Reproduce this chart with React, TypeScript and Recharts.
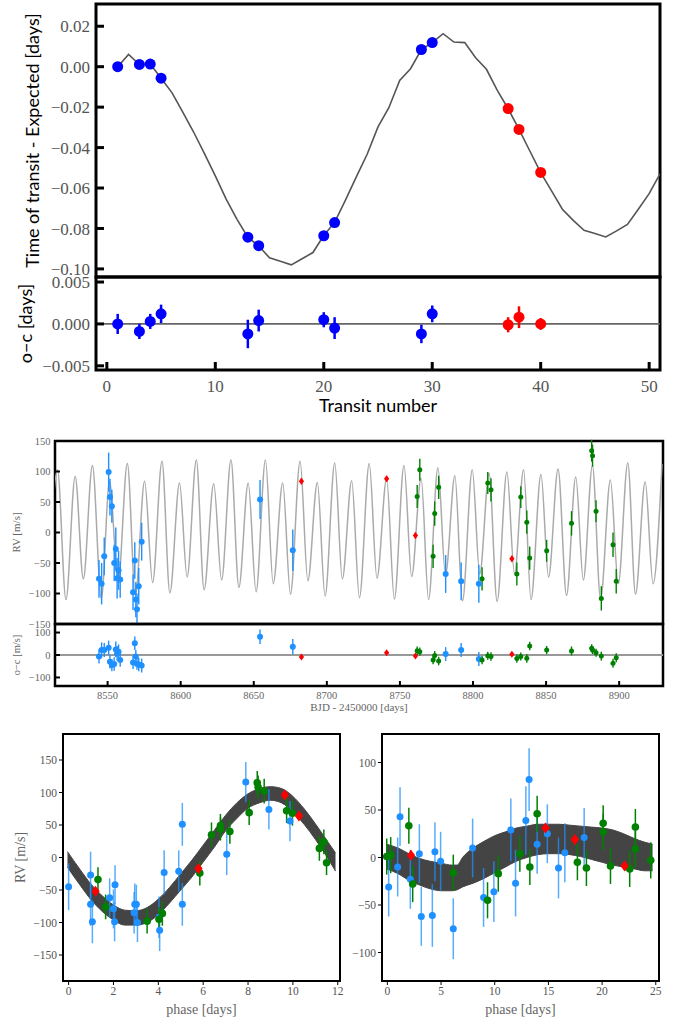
import React from "react";
import {
  ComposedChart,
  Line,
  Area,
  Scatter,
  XAxis,
  YAxis,
  ErrorBar,
  ReferenceArea,
  ReferenceLine,
  Label,
} from "recharts";

// ---- transit timing (top two panels) ----
const ttvModelN = [
  1, 2, 3, 4, 5, 6, 7, 8, 9, 10, 11, 12, 13, 14, 15, 16, 17, 18, 19, 20, 21, 22, 23, 24, 25, 26,
  27, 28, 29, 30, 31, 32, 33, 34, 35, 36, 37, 38, 39, 40, 41, 42, 43, 44, 45, 46, 47, 48, 49, 50, 51,
];
const ttvModel = [
  0.0, 0.0061, 0.0011, 0.0013, -0.0057, -0.0128, -0.0225, -0.0323, -0.043, -0.054, -0.0655,
  -0.0755, -0.0843, -0.0887, -0.0945, -0.0962, -0.098, -0.095, -0.0919, -0.0835, -0.077, -0.066,
  -0.0545, -0.0433, -0.0298, -0.0203, -0.0068, -0.001, 0.0085, 0.0119, 0.0163, 0.0122, 0.0119,
  0.0044, -0.0013, -0.0117, -0.0208, -0.031, -0.0417, -0.0524, -0.0614, -0.0705, -0.076, -0.0809,
  -0.0825, -0.0842, -0.0812, -0.078, -0.0705, -0.0628, -0.053,
];
const ttvBlueN = [1, 3, 4, 5, 13, 14, 20, 21, 29, 30];
const ttvBlue = [0.0, 0.0011, 0.0013, -0.0057, -0.0843, -0.0885, -0.0836, -0.0771, 0.0085, 0.0119];
const ttvBlueOC = [0.0, -0.0009, 0.0003, 0.0012, -0.0012, 0.0004, 0.0005, -0.0005, -0.0012, 0.0012];
const ttvBlueErr = [0.0012, 0.0009, 0.0009, 0.0011, 0.0017, 0.0013, 0.0009, 0.0013, 0.0011, 0.001];
const ttvRedN = [37, 38, 40];
const ttvRed = [-0.0207, -0.031, -0.0523];
const ttvRedOC = [-0.0001, 0.0008, 0.0];
const ttvRedErr = [0.0009, 0.0013, 0.0007];

// ---- RV time series ----
const rvModelT = [
  8509.8, 8515.7, 8521.5, 8527.8, 8533.4, 8539.6, 8545.7, 8551.3, 8557.2, 8563.5, 8569.0, 8575.3,
  8580.8, 8587.2, 8592.6, 8599.2, 8604.4, 8610.7, 8616.0, 8622.6, 8628.0, 8634.4, 8639.8, 8646.2,
  8651.6, 8658.0, 8663.3, 8669.8, 8675.1, 8681.7, 8687.0, 8693.5, 8698.8, 8705.4, 8710.6, 8717.0,
  8722.3, 8729.0, 8734.3, 8740.9, 8746.2, 8752.8, 8758.0, 8764.5, 8769.6, 8776.0, 8781.2, 8787.6,
  8792.8, 8799.5, 8804.6, 8811.0, 8816.5, 8823.2, 8828.4, 8834.6, 8839.7, 8846.5, 8851.7, 8858.2,
  8864.0, 8870.3, 8875.5, 8881.7, 8887.3, 8894.0, 8899.4, 8905.9, 8911.2, 8917.8, 8923.2, 8929.3,
];
const rvModelV = [
  -78, 103, -110, 92, -76, 110, -108, 83, -81, 113, -103, 84, -82, 117, -99, 81, -73, 119, -94, 80,
  -78, 119, -90, 81, -97, 119, -84, 81, -101, 117, -79, 82, -104, 114, -76, 85, -107, 113, -75, 88,
  -109, 110, -72, 89, -110, 106, -69, 93, -112, 103, -68, 97, -113, 99, -68, 103, -110, 95, -73,
  104, -103, 91, -78, 110, -109, 86, -84, 114, -101, 83, -84, 112,
];

const rvBlueT = [
  8544.1, 8545.9, 8547.7, 8550.7, 8551.6, 8552.9, 8554.5, 8555.6, 8556.5, 8557.5, 8558.6, 8567.4,
  8568.6, 8569.3, 8570.1, 8571.3, 8573.3, 8654.3, 8676.7, 8781.3, 8791.9, 8804.0,
];
const rvBlueV = [
  -76, -84, -39, 99, 58, 43, -50, -27, -75, -62, -77, -98, -46, -110, -126, -88, -15, 54, -29, -68,
  -80, -84,
];
const rvBlueErr = [31, 34, 31, 32, 30, 27, 30, 35, 33, 32, 30, 29, 30, 29, 26, 30, 31, 32, 34, 31, 31, 31];
const rvBlueOC = [-7, 22, 22, 32, -30, -45, -40, 25, 7, 15, -22, -33, 52, -7, -40, -42, -47, 81, 37, 4, 22, -18];

const rvGreenT = [
  8761.8, 8763.6, 8772.7, 8773.8, 8776.5, 8806.2, 8810.1, 8812.3, 8830.0, 8832.7, 8836.8, 8838.8,
  8850.4, 8867.4, 8881.2, 8881.8, 8884.2, 8887.8, 8895.8, 8898.0,
];
const rvGreenV = [59, 103, -39, 31, 74, -76, 81, 70, -68, 58, 17, -42, -30, 15, 134, 126, 35, -108, -20, -80];
const rvGreenErr = [19, 18, 19, 20, 19, 19, 18, 19, 19, 18, 19, 19, 18, 20, 18, 18, 18, 20, 20, 20];
const rvGreenOC = [19, 15, -22, -2, -27, -22, -3, -7, -16, -7, -15, 40, 22, 18, 30, 22, 10, -5, -37, -12];

const rvRedT = [8682.6, 8740.9, 8760.6, 8826.6];
const rvRedV = [84, 88, -5, -43];
const rvRedErr = [5, 5, 5, 5];
const rvRedOC = [-9, 10, -5, 3];

// ---- phase-folded, inner planet ----
const bandLPhase = [
  -0.05, 0.5, 1.0, 1.5, 2.0, 2.5, 3.0, 3.5, 4.0, 4.5, 5.0, 5.5, 6.0, 6.5, 7.0, 7.5, 8.0, 8.5, 9.0,
  9.5, 10.0, 10.5, 11.0, 11.5, 11.9,
];
const bandLHigh = [9, -18, -41, -59, -73, -81, -82, -77, -64, -46, -25, -4, 19, 42, 65, 84, 98, 106, 109, 106, 94, 75, 52, 27, 7];
const bandLLow = [-15, -42, -65, -83, -96, -104, -104, -100, -88, -70, -50, -30, -7, 16, 41, 60, 76, 84, 88, 84, 70, 51, 28, 2, -21];

const phLBlueP = [
  0.0, 0.98, 0.98, 1.06, 1.83, 2.0, 2.07, 2.05, 2.92, 2.95, 3.02, 3.07, 4.03, 4.06, 4.26, 4.91, 5.07,
  5.07, 7.05, 7.9, 8.93, 9.87,
];
const phLBlueV = [-45, -27, -72, -99, -62, -79, -42, -99, -85, -72, -72, -100, -92, -112, -23, -21, 51, -72, 5, 116, 74, 56];
const phLBlueErr = [36, 36, 33, 33, 30, 30, 30, 30, 32, 32, 30, 30, 32, 32, 34, 32, 33, 33, 32, 31, 31, 31];
const phLGreenP = [1.31, 1.65, 3.5, 4.03, 4.18, 5.85, 6.37, 6.77, 6.77, 7.19, 8.05, 8.41, 8.45, 8.72, 9.72, 9.98, 11.18, 11.38, 11.5];
const phLGreenV = [-34, -76, -98, -95, -86, -24, 35, 49, 44, 40, 69, 115, 108, 102, 72, 68, 14, 24, -8];
const phLGreenErr = [19, 19, 19, 19, 19, 19, 19, 18, 18, 19, 19, 18, 18, 19, 19, 19, 19, 19, 19];
const phLRedP = [1.2, 5.79, 9.64, 10.27];
const phLRedV = [-52, -17, 96, 64];

// ---- phase-folded, outer planet ----
const bandRPhase = [
  -0.1, 1, 2, 3, 4, 5, 6, 6.5, 7, 8, 9, 10, 11, 12, 13, 14, 15, 16, 17, 18, 19, 20, 21, 22, 23, 24, 24.7,
];
const bandRHigh = [14, 10, 4, -1, -4, -6, -8, -8, 0, 10, 17, 23, 27, 31, 33, 35, 35, 35, 34, 33, 32, 31, 29, 25, 20, 16, 14];
const bandRLow = [-12, -17, -24, -29, -33, -35, -35, -34, -31, -27, -22, -16, -10, -4, 0, 3, 4, 4, 3, 1, -2, -5, -8, -10, -12, -14, -14];

const phRBlueP = [
  0.12, 0.96, 1.18, 2.14, 2.98, 3.16, 4.19, 4.43, 4.96, 6.14, 7.94, 8.96, 9.92, 11.5, 11.94, 12.9,
  13.2, 13.95, 14.9, 15.94, 16.53, 18.33,
];
const phRBlueV = [-31, -10, 43, -23, 4, -62, -61, 6, -4, -75, 10, -42, -36, 29, -27, 39, 82, 14, 25, -11, 5, 21];
const phRBlueErr = [31, 31, 31, 31, 31, 31, 33, 31, 31, 32, 31, 31, 32, 33, 35, 36, 33, 31, 31, 32, 31, 31];
const phRGreenP = [-0.06, 0.31, 2.0, 2.36, 6.14, 9.33, 10.33, 12.34, 13.27, 13.95, 17.7, 18.54, 20.1, 20.1, 20.78, 22.57, 23.1, 23.1, 24.53];
const phRGreenV = [1, 2.5, 33.5, -28, -16, -45, -17, 4, -10, 46, -5, -11, 36, 27, -9, -12, 32, 9, -3];
const phRGreenErr = [19, 19, 19, 19, 19, 19, 19, 19, 19, 19, 19, 19, 19, 19, 19, 19, 19, 19, 19];
const phRRedP = [2.2, 14.73, 17.46, 22.1];
const phRRedV = [2.5, 31, 19, -9];

const serif = "'Liberation Serif', 'Times New Roman', serif";
const sans = "Lato, 'DejaVu Sans', sans-serif";
const BLUE = "#1e90ff";
const GREEN = "#008000";
const RED = "#ff0000";

const pts = (xs: number[], ys: number[], es?: number[]) =>
  xs.map((x, i) => ({ x, y: ys[i], e: es ? es[i] : 0 }));

const dot = (r: number, fill: string) => (p: any) =>
  <circle cx={p.cx} cy={p.cy} r={r} fill={fill} />;

const diamond = (d: number, fill: string) => (p: any) =>
  (
    <polygon
      points={`${p.cx},${p.cy - d} ${p.cx + d * 0.75},${p.cy} ${p.cx},${p.cy + d} ${p.cx - d * 0.75},${p.cy}`}
      fill={fill}
    />
  );

const minus = (v: number, digits?: number) => {
  const s = digits === undefined ? String(Math.abs(v)) : Math.abs(v).toFixed(digits);
  return v < 0 ? "\u2212" + s : s;
};

function TtvPanel() {
  const model = pts(ttvModelN, ttvModel);
  const tick = { fill: "#555", fontSize: 17, fontFamily: serif };
  return (
    <div style={{ position: "absolute", left: 0, top: 0 }}>
      <ComposedChart width={692} height={290} data={model} margin={{ top: 4, right: 32, bottom: 13, left: 0 }}>
        <XAxis
          type="number"
          dataKey="x"
          domain={[-1, 51]}
          ticks={[0, 10, 20, 30, 40, 50]}
          allowDataOverflow
          height={0}
          tickSize={-8}
          tickLine={{ stroke: "#000", strokeWidth: 3 }}
          axisLine={false}
          tickFormatter={() => ""}
        />
        <YAxis
          type="number"
          domain={[-0.104, 0.031]}
          ticks={[-0.1, -0.08, -0.06, -0.04, -0.02, 0, 0.02]}
          allowDataOverflow
          width={96}
          tickSize={-8}
          tickMargin={14}
          tickLine={{ stroke: "#000", strokeWidth: 3 }}
          axisLine={false}
          tick={tick}
          tickFormatter={(v: number) => minus(v, 2)}
        >
          <Label
            value="Time of transit - Expected [days]"
            angle={-90}
            position="insideLeft"
            offset={33}
            style={{ textAnchor: "middle", fill: "#000", fontSize: 18, fontFamily: sans }}
          />
        </YAxis>
        <Line dataKey="y" type="linear" stroke="#555" strokeWidth={1.6} dot={false} isAnimationActive={false} />
        <Scatter data={pts(ttvBlueN, ttvBlue)} dataKey="y" shape={dot(5.5, "#0000ff")} isAnimationActive={false} />
        <Scatter data={pts(ttvRedN, ttvRed)} dataKey="y" shape={dot(5.5, RED)} isAnimationActive={false} />
        <ReferenceArea x1={-1} x2={51} y1={-0.104} y2={0.031} fill="none" stroke="#000" strokeWidth={3} ifOverflow="visible" />
      </ComposedChart>
    </div>
  );
}

function TtvResidPanel() {
  const tick = { fill: "#555", fontSize: 17, fontFamily: serif };
  return (
    <div style={{ position: "absolute", left: 0, top: 270 }}>
      <ComposedChart width={692} height={150} margin={{ top: 7, right: 32, bottom: 0, left: 0 }}>
        <XAxis
          type="number"
          dataKey="x"
          domain={[-1, 51]}
          ticks={[0, 10, 20, 30, 40, 50]}
          allowDataOverflow
          height={50}
          tickSize={-8}
          tickMargin={18}
          tickLine={{ stroke: "#000", strokeWidth: 3 }}
          axisLine={false}
          tick={tick}
        >
          <Label
            value="Transit number"
            position="insideBottom"
            offset={8}
            style={{ fill: "#000", fontSize: 18, fontFamily: sans }}
          />
        </XAxis>
        <YAxis
          type="number"
          domain={[-0.0055, 0.0056]}
          ticks={[-0.005, 0, 0.005]}
          allowDataOverflow
          width={96}
          tickSize={-8}
          tickMargin={14}
          tickLine={{ stroke: "#000", strokeWidth: 3 }}
          axisLine={false}
          tick={tick}
          tickFormatter={(v: number) => minus(v, 3)}
        >
          <Label
            value="o−c [days]"
            angle={-90}
            position="insideLeft"
            offset={26}
            style={{ textAnchor: "middle", fill: "#000", fontSize: 18, fontFamily: sans }}
          />
        </YAxis>
        <ReferenceLine y={0} stroke="#666" strokeWidth={1.6} />
        <Scatter data={pts(ttvBlueN, ttvBlueOC, ttvBlueErr)} dataKey="y" shape={dot(5.5, "#0000ff")} isAnimationActive={false}>
          <ErrorBar dataKey="e" direction="y" width={0} stroke="#0000ff" strokeWidth={2.5} />
        </Scatter>
        <Scatter data={pts(ttvRedN, ttvRedOC, ttvRedErr)} dataKey="y" shape={dot(5.5, RED)} isAnimationActive={false}>
          <ErrorBar dataKey="e" direction="y" width={0} stroke={RED} strokeWidth={2.5} />
        </Scatter>
        <ReferenceArea x1={-1} x2={51} y1={-0.0055} y2={0.0056} fill="none" stroke="#000" strokeWidth={3} ifOverflow="visible" />
      </ComposedChart>
    </div>
  );
}

const rvTick = { fill: "#666", fontSize: 10.5, fontFamily: serif };

function RvPanel() {
  const model = pts(rvModelT, rvModelV);
  return (
    <div style={{ position: "absolute", left: 0, top: 430 }}>
      <ComposedChart width={692} height={200} data={model} margin={{ top: 11, right: 29, bottom: 6, left: 0 }}>
        <XAxis
          type="number"
          dataKey="x"
          domain={[8514, 8930]}
          ticks={[8550, 8600, 8650, 8700, 8750, 8800, 8850, 8900]}
          allowDataOverflow
          height={0}
          tickSize={-5}
          tickLine={{ stroke: "#000", strokeWidth: 2 }}
          axisLine={false}
          tickFormatter={() => ""}
        />
        <YAxis
          type="number"
          domain={[-150, 150]}
          ticks={[-150, -100, -50, 0, 50, 100, 150]}
          allowDataOverflow
          width={55}
          tickSize={-5}
          tickMargin={9.5}
          tickLine={{ stroke: "#000", strokeWidth: 2 }}
          axisLine={false}
          tick={rvTick}
          tickFormatter={(v: number) => minus(v)}
        >
          <Label
            value="RV [m/s]"
            angle={-90}
            position="insideLeft"
            offset={16}
            style={{ textAnchor: "middle", fill: "#666", fontSize: 11, fontFamily: serif }}
          />
        </YAxis>
        <Line dataKey="y" type="monotone" stroke="#aaa" strokeWidth={1.5} dot={false} isAnimationActive={false} />
        <Scatter data={pts(rvBlueT, rvBlueV, rvBlueErr)} dataKey="y" shape={dot(3, BLUE)} isAnimationActive={false}>
          <ErrorBar dataKey="e" direction="y" width={0} stroke={BLUE} strokeWidth={1.4} />
        </Scatter>
        <Scatter data={pts(rvGreenT, rvGreenV, rvGreenErr)} dataKey="y" shape={dot(2.5, GREEN)} isAnimationActive={false}>
          <ErrorBar dataKey="e" direction="y" width={0} stroke={GREEN} strokeWidth={1.4} />
        </Scatter>
        <Scatter data={pts(rvRedT, rvRedV, rvRedErr)} dataKey="y" shape={diamond(3.5, RED)} isAnimationActive={false}>
          <ErrorBar dataKey="e" direction="y" width={0} stroke={RED} strokeWidth={1.4} />
        </Scatter>
        <ReferenceArea x1={8514} x2={8930} y1={-150} y2={150} fill="none" stroke="#000" strokeWidth={2.5} ifOverflow="visible" />
      </ComposedChart>
    </div>
  );
}

function RvResidPanel() {
  return (
    <div style={{ position: "absolute", left: 0, top: 620 }}>
      <ComposedChart width={692} height={100} margin={{ top: 4, right: 29, bottom: 0, left: 0 }}>
        <XAxis
          type="number"
          dataKey="x"
          domain={[8514, 8930]}
          ticks={[8550, 8600, 8650, 8700, 8750, 8800, 8850, 8900]}
          allowDataOverflow
          height={34}
          tickSize={-5}
          tickMargin={11}
          tickLine={{ stroke: "#000", strokeWidth: 2 }}
          axisLine={false}
          tick={rvTick}
        >
          <Label
            value="BJD - 2450000 [days]"
            position="insideBottom"
            offset={9}
            style={{ fill: "#666", fontSize: 11, fontFamily: serif }}
          />
        </XAxis>
        <YAxis
          type="number"
          domain={[-138, 138]}
          ticks={[-100, 0, 100]}
          allowDataOverflow
          width={55}
          tickSize={-5}
          tickMargin={9.5}
          tickLine={{ stroke: "#000", strokeWidth: 2 }}
          axisLine={false}
          tick={rvTick}
          tickFormatter={(v: number) => minus(v)}
        >
          <Label
            value="o−c [m/s]"
            angle={-90}
            position="insideLeft"
            offset={16}
            style={{ textAnchor: "middle", fill: "#666", fontSize: 10.5, fontFamily: serif }}
          />
        </YAxis>
        <ReferenceLine y={0} stroke="#999" strokeWidth={2} />
        <Scatter data={pts(rvBlueT, rvBlueOC, rvBlueErr)} dataKey="y" shape={dot(3, BLUE)} isAnimationActive={false}>
          <ErrorBar dataKey="e" direction="y" width={0} stroke={BLUE} strokeWidth={1.4} />
        </Scatter>
        <Scatter data={pts(rvGreenT, rvGreenOC, rvGreenErr)} dataKey="y" shape={dot(2.5, GREEN)} isAnimationActive={false}>
          <ErrorBar dataKey="e" direction="y" width={0} stroke={GREEN} strokeWidth={1.4} />
        </Scatter>
        <Scatter data={pts(rvRedT, rvRedOC, rvRedErr)} dataKey="y" shape={diamond(3.5, RED)} isAnimationActive={false}>
          <ErrorBar dataKey="e" direction="y" width={0} stroke={RED} strokeWidth={1.4} />
        </Scatter>
        <ReferenceArea x1={8514} x2={8930} y1={-138} y2={138} fill="none" stroke="#000" strokeWidth={2.5} ifOverflow="visible" />
      </ComposedChart>
    </div>
  );
}

interface PhaseProps {
  left: number;
  width: number;
  axisWidth: number;
  right: number;
  xDomain: [number, number];
  xTicks: number[];
  yDomain: [number, number];
  yTicks: number[];
  bandX: number[];
  bandLo: number[];
  bandHi: number[];
  blue: { x: number; y: number; e: number }[];
  green: { x: number; y: number; e: number }[];
  red: { x: number; y: number; e: number }[];
  yLabel?: string;
}

function PhasePanel(p: PhaseProps) {
  const band = p.bandX.map((x, i) => ({ x, band: [p.bandLo[i], p.bandHi[i]] }));
  const tick = { fill: "#555", fontSize: 11.5, fontFamily: serif };
  return (
    <div style={{ position: "absolute", left: p.left, top: 725 }}>
      <ComposedChart width={p.width} height={294} data={band} margin={{ top: 9, right: p.right, bottom: 0, left: 0 }}>
        <XAxis
          type="number"
          dataKey="x"
          domain={p.xDomain}
          ticks={p.xTicks}
          allowDataOverflow
          height={38}
          tickSize={4}
          tickMargin={2}
          tickLine={{ stroke: "#000", strokeWidth: 1 }}
          axisLine={false}
          tick={tick}
        >
          <Label value="phase [days]" position="insideBottom" offset={5} style={{ fill: "#666", fontSize: 14, fontFamily: serif }} />
        </XAxis>
        <YAxis
          type="number"
          domain={p.yDomain}
          ticks={p.yTicks}
          allowDataOverflow
          width={p.axisWidth}
          tickSize={4}
          tickMargin={2}
          tickLine={{ stroke: "#000", strokeWidth: 1 }}
          axisLine={false}
          tick={tick}
          tickFormatter={(v: number) => minus(v)}
        >
          {p.yLabel ? (
            <Label
              value={p.yLabel}
              angle={-90}
              position="insideLeft"
              offset={20}
              style={{ textAnchor: "middle", fill: "#666", fontSize: 14, fontFamily: serif }}
            />
          ) : null}
        </YAxis>
        <Area dataKey="band" type="monotone" stroke="#444" strokeWidth={1} fill="#444" fillOpacity={1} isAnimationActive={false} />
        <Scatter data={p.blue} dataKey="y" shape={dot(3.5, BLUE)} isAnimationActive={false}>
          <ErrorBar dataKey="e" direction="y" width={0} stroke={BLUE} strokeOpacity={0.75} strokeWidth={1.5} />
        </Scatter>
        <Scatter data={p.green} dataKey="y" shape={dot(3.8, GREEN)} isAnimationActive={false}>
          <ErrorBar dataKey="e" direction="y" width={0} stroke={GREEN} strokeWidth={1.5} />
        </Scatter>
        <Scatter data={p.red} dataKey="y" shape={diamond(5.5, RED)} isAnimationActive={false}>
          <ErrorBar dataKey="e" direction="y" width={0} stroke={RED} strokeWidth={1.5} />
        </Scatter>
        <ReferenceArea
          x1={p.xDomain[0]}
          x2={p.xDomain[1]}
          y1={p.yDomain[0]}
          y2={p.yDomain[1]}
          fill="none"
          stroke="#000"
          strokeWidth={2}
          ifOverflow="visible"
        />
      </ComposedChart>
    </div>
  );
}

export default function App() {
  const five = [5, 5, 5, 5];
  return (
    <div style={{ position: "absolute", left: 0, top: 0, width: 692, height: 1019, background: "#fff" }}>
      <TtvPanel />
      <TtvResidPanel />
      <RvPanel />
      <RvResidPanel />
      <PhasePanel
        left={0}
        width={345}
        axisWidth={63}
        right={5}
        xDomain={[-0.25, 12.1]}
        xTicks={[0, 2, 4, 6, 8, 10, 12]}
        yDomain={[-190, 190]}
        yTicks={[-150, -100, -50, 0, 50, 100, 150]}
        bandX={bandLPhase}
        bandLo={bandLLow}
        bandHi={bandLHigh}
        blue={pts(phLBlueP, phLBlueV, phLBlueErr)}
        green={pts(phLGreenP, phLGreenV, phLGreenErr)}
        red={pts(phLRedP, phLRedV, five)}
        yLabel="RV [m/s]"
      />
      <PhasePanel
        left={345}
        width={347}
        axisWidth={37}
        right={33}
        xDomain={[-0.5, 25.3]}
        xTicks={[0, 5, 10, 15, 20, 25]}
        yDomain={[-130, 130]}
        yTicks={[-100, -50, 0, 50, 100]}
        bandX={bandRPhase}
        bandLo={bandRLow}
        bandHi={bandRHigh}
        blue={pts(phRBlueP, phRBlueV, phRBlueErr)}
        green={pts(phRGreenP, phRGreenV, phRGreenErr)}
        red={pts(phRRedP, phRRedV, five)}
      />
    </div>
  );
}
